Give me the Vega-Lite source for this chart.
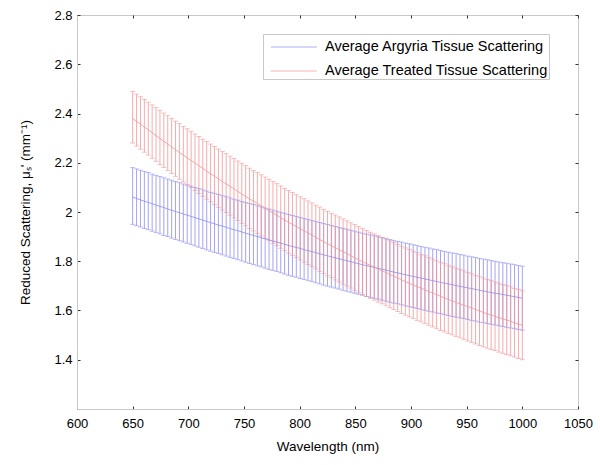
{
  "$schema": "https://vega.github.io/schema/vega-lite/v6.json",
  "width": 501,
  "height": 394,
  "autosize": "none",
  "padding": {"left": 77, "top": 15, "right": 22, "bottom": 56},
  "background": "white",
  "config": {
    "font": "Liberation Sans",
    "view": {"stroke": "#c8c8c8", "strokeWidth": 1},
    "axis": {"labelFont": "Liberation Sans", "titleFont": "Liberation Sans", "labelFontSize": 13, "titleFontSize": 13.5, "labelColor": "#000", "titleColor": "#000", "titleFontWeight": "normal", "domainColor": "#c8c8c8", "tickColor": "#333", "tickSize": -3, "grid": false}
  },
  "resolve": {"axis": {"x": "independent", "y": "independent"}},
  "data": {"values": [
{"w":650,"am":2.060,"al":1.950,"ah":2.180,"tm":2.380,"tl":2.280,"th":2.490},
{"w":653.5,"am":2.055,"al":1.944,"ah":2.175,"tm":2.368,"tl":2.268,"th":2.479},
{"w":657,"am":2.049,"al":1.939,"ah":2.170,"tm":2.357,"tl":2.255,"th":2.468},
{"w":660.5,"am":2.044,"al":1.933,"ah":2.165,"tm":2.345,"tl":2.243,"th":2.457},
{"w":664,"am":2.039,"al":1.928,"ah":2.160,"tm":2.334,"tl":2.231,"th":2.446},
{"w":667.5,"am":2.034,"al":1.922,"ah":2.154,"tm":2.322,"tl":2.218,"th":2.435},
{"w":671,"am":2.028,"al":1.916,"ah":2.149,"tm":2.310,"tl":2.206,"th":2.424},
{"w":674.5,"am":2.023,"al":1.911,"ah":2.144,"tm":2.299,"tl":2.193,"th":2.413},
{"w":678,"am":2.018,"al":1.905,"ah":2.139,"tm":2.287,"tl":2.181,"th":2.402},
{"w":681.5,"am":2.012,"al":1.900,"ah":2.134,"tm":2.276,"tl":2.169,"th":2.391},
{"w":685,"am":2.007,"al":1.894,"ah":2.129,"tm":2.264,"tl":2.156,"th":2.380},
{"w":688.5,"am":2.002,"al":1.889,"ah":2.124,"tm":2.253,"tl":2.145,"th":2.369},
{"w":692,"am":1.997,"al":1.883,"ah":2.119,"tm":2.242,"tl":2.133,"th":2.359},
{"w":695.5,"am":1.992,"al":1.878,"ah":2.114,"tm":2.231,"tl":2.122,"th":2.348},
{"w":699,"am":1.987,"al":1.873,"ah":2.109,"tm":2.220,"tl":2.110,"th":2.338},
{"w":702.5,"am":1.982,"al":1.868,"ah":2.105,"tm":2.209,"tl":2.099,"th":2.328},
{"w":706,"am":1.977,"al":1.862,"ah":2.100,"tm":2.199,"tl":2.087,"th":2.317},
{"w":709.5,"am":1.972,"al":1.857,"ah":2.095,"tm":2.188,"tl":2.075,"th":2.307},
{"w":713,"am":1.967,"al":1.852,"ah":2.090,"tm":2.177,"tl":2.064,"th":2.296},
{"w":716.5,"am":1.962,"al":1.846,"ah":2.085,"tm":2.166,"tl":2.052,"th":2.286},
{"w":720,"am":1.957,"al":1.841,"ah":2.080,"tm":2.155,"tl":2.041,"th":2.276},
{"w":723.5,"am":1.952,"al":1.836,"ah":2.076,"tm":2.145,"tl":2.030,"th":2.266},
{"w":727,"am":1.947,"al":1.831,"ah":2.071,"tm":2.135,"tl":2.019,"th":2.256},
{"w":730.5,"am":1.943,"al":1.826,"ah":2.066,"tm":2.124,"tl":2.008,"th":2.246},
{"w":734,"am":1.938,"al":1.821,"ah":2.062,"tm":2.114,"tl":1.998,"th":2.237},
{"w":737.5,"am":1.933,"al":1.816,"ah":2.057,"tm":2.104,"tl":1.987,"th":2.227},
{"w":741,"am":1.928,"al":1.811,"ah":2.052,"tm":2.094,"tl":1.976,"th":2.217},
{"w":744.5,"am":1.924,"al":1.806,"ah":2.048,"tm":2.084,"tl":1.965,"th":2.207},
{"w":748,"am":1.919,"al":1.801,"ah":2.043,"tm":2.073,"tl":1.954,"th":2.198},
{"w":751.5,"am":1.914,"al":1.796,"ah":2.039,"tm":2.063,"tl":1.944,"th":2.188},
{"w":755,"am":1.909,"al":1.791,"ah":2.034,"tm":2.053,"tl":1.933,"th":2.178},
{"w":758.5,"am":1.905,"al":1.786,"ah":2.030,"tm":2.044,"tl":1.923,"th":2.169},
{"w":762,"am":1.900,"al":1.781,"ah":2.025,"tm":2.034,"tl":1.913,"th":2.160},
{"w":765.5,"am":1.896,"al":1.777,"ah":2.021,"tm":2.025,"tl":1.903,"th":2.151},
{"w":769,"am":1.891,"al":1.772,"ah":2.016,"tm":2.015,"tl":1.893,"th":2.142},
{"w":772.5,"am":1.887,"al":1.767,"ah":2.012,"tm":2.006,"tl":1.883,"th":2.133},
{"w":776,"am":1.882,"al":1.762,"ah":2.008,"tm":1.996,"tl":1.873,"th":2.124},
{"w":779.5,"am":1.878,"al":1.758,"ah":2.003,"tm":1.987,"tl":1.863,"th":2.115},
{"w":783,"am":1.873,"al":1.753,"ah":1.999,"tm":1.977,"tl":1.853,"th":2.106},
{"w":786.5,"am":1.869,"al":1.748,"ah":1.995,"tm":1.968,"tl":1.843,"th":2.096},
{"w":790,"am":1.864,"al":1.743,"ah":1.990,"tm":1.958,"tl":1.833,"th":2.087},
{"w":793.5,"am":1.860,"al":1.739,"ah":1.986,"tm":1.950,"tl":1.824,"th":2.079},
{"w":797,"am":1.856,"al":1.735,"ah":1.982,"tm":1.941,"tl":1.815,"th":2.070},
{"w":800.5,"am":1.852,"al":1.730,"ah":1.978,"tm":1.932,"tl":1.805,"th":2.062},
{"w":804,"am":1.847,"al":1.726,"ah":1.974,"tm":1.923,"tl":1.796,"th":2.054},
{"w":807.5,"am":1.843,"al":1.721,"ah":1.970,"tm":1.915,"tl":1.787,"th":2.045},
{"w":811,"am":1.839,"al":1.717,"ah":1.965,"tm":1.906,"tl":1.778,"th":2.037},
{"w":814.5,"am":1.835,"al":1.712,"ah":1.961,"tm":1.897,"tl":1.769,"th":2.028},
{"w":818,"am":1.830,"al":1.708,"ah":1.957,"tm":1.888,"tl":1.759,"th":2.020},
{"w":821.5,"am":1.826,"al":1.703,"ah":1.953,"tm":1.880,"tl":1.750,"th":2.011},
{"w":825,"am":1.822,"al":1.699,"ah":1.949,"tm":1.871,"tl":1.741,"th":2.003},
{"w":828.5,"am":1.818,"al":1.695,"ah":1.945,"tm":1.863,"tl":1.733,"th":1.995},
{"w":832,"am":1.814,"al":1.691,"ah":1.941,"tm":1.855,"tl":1.724,"th":1.988},
{"w":835.5,"am":1.810,"al":1.687,"ah":1.937,"tm":1.847,"tl":1.716,"th":1.980},
{"w":839,"am":1.806,"al":1.682,"ah":1.933,"tm":1.839,"tl":1.707,"th":1.972},
{"w":842.5,"am":1.802,"al":1.678,"ah":1.930,"tm":1.831,"tl":1.699,"th":1.964},
{"w":846,"am":1.798,"al":1.674,"ah":1.926,"tm":1.822,"tl":1.691,"th":1.956},
{"w":849.5,"am":1.794,"al":1.670,"ah":1.922,"tm":1.814,"tl":1.682,"th":1.949},
{"w":853,"am":1.790,"al":1.666,"ah":1.918,"tm":1.806,"tl":1.674,"th":1.941},
{"w":856.5,"am":1.786,"al":1.662,"ah":1.914,"tm":1.798,"tl":1.665,"th":1.933},
{"w":860,"am":1.782,"al":1.657,"ah":1.910,"tm":1.790,"tl":1.657,"th":1.925},
{"w":863.5,"am":1.779,"al":1.654,"ah":1.907,"tm":1.783,"tl":1.649,"th":1.918},
{"w":867,"am":1.775,"al":1.650,"ah":1.903,"tm":1.776,"tl":1.642,"th":1.911},
{"w":870.5,"am":1.771,"al":1.646,"ah":1.899,"tm":1.768,"tl":1.634,"th":1.904},
{"w":874,"am":1.768,"al":1.642,"ah":1.896,"tm":1.761,"tl":1.627,"th":1.897},
{"w":877.5,"am":1.764,"al":1.638,"ah":1.892,"tm":1.754,"tl":1.619,"th":1.890},
{"w":881,"am":1.760,"al":1.634,"ah":1.888,"tm":1.746,"tl":1.611,"th":1.883},
{"w":884.5,"am":1.756,"al":1.630,"ah":1.885,"tm":1.739,"tl":1.604,"th":1.876},
{"w":888,"am":1.753,"al":1.627,"ah":1.881,"tm":1.732,"tl":1.596,"th":1.868},
{"w":891.5,"am":1.749,"al":1.623,"ah":1.878,"tm":1.724,"tl":1.588,"th":1.861},
{"w":895,"am":1.745,"al":1.619,"ah":1.874,"tm":1.717,"tl":1.581,"th":1.854},
{"w":898.5,"am":1.742,"al":1.615,"ah":1.871,"tm":1.710,"tl":1.574,"th":1.848},
{"w":902,"am":1.738,"al":1.612,"ah":1.867,"tm":1.704,"tl":1.567,"th":1.841},
{"w":905.5,"am":1.735,"al":1.608,"ah":1.864,"tm":1.697,"tl":1.560,"th":1.835},
{"w":909,"am":1.732,"al":1.605,"ah":1.860,"tm":1.691,"tl":1.554,"th":1.828},
{"w":912.5,"am":1.728,"al":1.601,"ah":1.857,"tm":1.684,"tl":1.547,"th":1.822},
{"w":916,"am":1.725,"al":1.597,"ah":1.854,"tm":1.677,"tl":1.540,"th":1.815},
{"w":919.5,"am":1.721,"al":1.594,"ah":1.850,"tm":1.671,"tl":1.533,"th":1.809},
{"w":923,"am":1.718,"al":1.590,"ah":1.847,"tm":1.664,"tl":1.526,"th":1.802},
{"w":926.5,"am":1.714,"al":1.587,"ah":1.844,"tm":1.658,"tl":1.519,"th":1.796},
{"w":930,"am":1.711,"al":1.583,"ah":1.840,"tm":1.651,"tl":1.513,"th":1.790},
{"w":933.5,"am":1.708,"al":1.580,"ah":1.837,"tm":1.645,"tl":1.507,"th":1.784},
{"w":937,"am":1.705,"al":1.576,"ah":1.834,"tm":1.639,"tl":1.501,"th":1.778},
{"w":940.5,"am":1.701,"al":1.573,"ah":1.831,"tm":1.633,"tl":1.495,"th":1.772},
{"w":944,"am":1.698,"al":1.570,"ah":1.828,"tm":1.627,"tl":1.489,"th":1.766},
{"w":947.5,"am":1.695,"al":1.567,"ah":1.825,"tm":1.621,"tl":1.483,"th":1.761},
{"w":951,"am":1.692,"al":1.563,"ah":1.821,"tm":1.616,"tl":1.476,"th":1.755},
{"w":954.5,"am":1.689,"al":1.560,"ah":1.818,"tm":1.610,"tl":1.470,"th":1.749},
{"w":958,"am":1.686,"al":1.557,"ah":1.815,"tm":1.604,"tl":1.464,"th":1.743},
{"w":961.5,"am":1.682,"al":1.553,"ah":1.812,"tm":1.598,"tl":1.458,"th":1.737},
{"w":965,"am":1.679,"al":1.550,"ah":1.809,"tm":1.592,"tl":1.452,"th":1.732},
{"w":968.5,"am":1.676,"al":1.547,"ah":1.806,"tm":1.587,"tl":1.447,"th":1.726},
{"w":972,"am":1.673,"al":1.544,"ah":1.803,"tm":1.582,"tl":1.442,"th":1.721},
{"w":975.5,"am":1.670,"al":1.541,"ah":1.800,"tm":1.576,"tl":1.437,"th":1.716},
{"w":979,"am":1.668,"al":1.538,"ah":1.797,"tm":1.571,"tl":1.431,"th":1.711},
{"w":982.5,"am":1.665,"al":1.535,"ah":1.794,"tm":1.566,"tl":1.426,"th":1.706},
{"w":986,"am":1.662,"al":1.532,"ah":1.792,"tm":1.561,"tl":1.421,"th":1.701},
{"w":989.5,"am":1.659,"al":1.529,"ah":1.789,"tm":1.556,"tl":1.416,"th":1.696},
{"w":993,"am":1.656,"al":1.526,"ah":1.786,"tm":1.550,"tl":1.411,"th":1.690},
{"w":996.5,"am":1.653,"al":1.523,"ah":1.783,"tm":1.545,"tl":1.405,"th":1.685},
{"w":1000,"am":1.650,"al":1.520,"ah":1.780,"tm":1.540,"tl":1.400,"th":1.680}
  ]},
  "encoding": {
    "x": {"field": "w", "type": "quantitative", "scale": {"domain": [600, 1050], "nice": false, "zero": false}, "axis": null}
  },
  "layer": [
    {"mark": {"type": "rule", "strokeWidth": 0.8},
     "encoding": {
      "x": {"field": "w", "type": "quantitative",
        "axis": {"title": "Wavelength (nm)", "values": [600,650,700,750,800,850,900,950,1000,1050], "format": "d", "labelPadding": 11, "titlePadding": 9, "labelFlush": false}},
      "y": {"field": "al", "type": "quantitative", "scale": {"domain": [1.2, 2.8], "nice": false, "zero": false},
        "axis": {"title": "Reduced Scattering, μₛ' (mm⁻¹)", "values": [1.4,1.6,1.8,2,2.2,2.4,2.6,2.8], "format": ".2~f", "labelPadding": 8, "titlePadding": 21}},
      "y2": {"field": "ah"},
      "color": {"datum": "A", "type": "nominal",
        "scale": {"domain": ["A", "T"], "range": ["#8c8cf5", "#f59494"]},
        "legend": {"title": null, "orient": "none", "legendX": 186, "legendY": 19, "symbolType": "M-0.45,0H3.55", "symbolSize": 529, "symbolStrokeWidth": 1, "labelOffset": 37,
          "labelExpr": "datum.value == 'A' ? 'Average Argyria Tissue Scattering   ' : 'Average Treated Tissue Scattering   '",
          "labelFont": "Liberation Sans", "labelFontSize": 14.5, "labelColor": "#000", "strokeColor": "#c8c8c8", "fillColor": "white", "padding": 1, "rowPadding": 5, "labelLimit": 400}}}},
    {"mark": {"type": "rule", "strokeWidth": 0.8},
     "encoding": {
      "x": {"field": "w", "type": "quantitative",
        "axis": {"orient": "top", "title": null, "labels": false, "domain": false, "values": [600,650,700,750,800,850,900,950,1000,1050]}},
      "y": {"field": "tl", "type": "quantitative",
        "axis": {"orient": "right", "title": null, "labels": false, "domain": false, "values": [1.4,1.6,1.8,2,2.2,2.4,2.6,2.8]}},
      "y2": {"field": "th"}, "color": {"datum": "T", "type": "nominal"}}},
    {"mark": {"type": "tick", "orient": "horizontal", "size": 5, "thickness": 0.8},
     "encoding": {"y": {"field": "ah", "type": "quantitative", "axis": null}, "color": {"datum": "A", "type": "nominal"}}},
    {"mark": {"type": "tick", "orient": "horizontal", "size": 5, "thickness": 0.8},
     "encoding": {"y": {"field": "al", "type": "quantitative", "axis": null}, "color": {"datum": "A", "type": "nominal"}}},
    {"mark": {"type": "tick", "orient": "horizontal", "size": 5, "thickness": 0.8},
     "encoding": {"y": {"field": "th", "type": "quantitative", "axis": null}, "color": {"datum": "T", "type": "nominal"}}},
    {"mark": {"type": "tick", "orient": "horizontal", "size": 5, "thickness": 0.8},
     "encoding": {"y": {"field": "tl", "type": "quantitative", "axis": null}, "color": {"datum": "T", "type": "nominal"}}},
    {"mark": {"type": "line", "strokeWidth": 0.8},
     "encoding": {"y": {"field": "am", "type": "quantitative", "axis": null}, "color": {"datum": "A", "type": "nominal"}}},
    {"mark": {"type": "line", "strokeWidth": 0.8},
     "encoding": {"y": {"field": "tm", "type": "quantitative", "axis": null}, "color": {"datum": "T", "type": "nominal"}}}
  ]
}
